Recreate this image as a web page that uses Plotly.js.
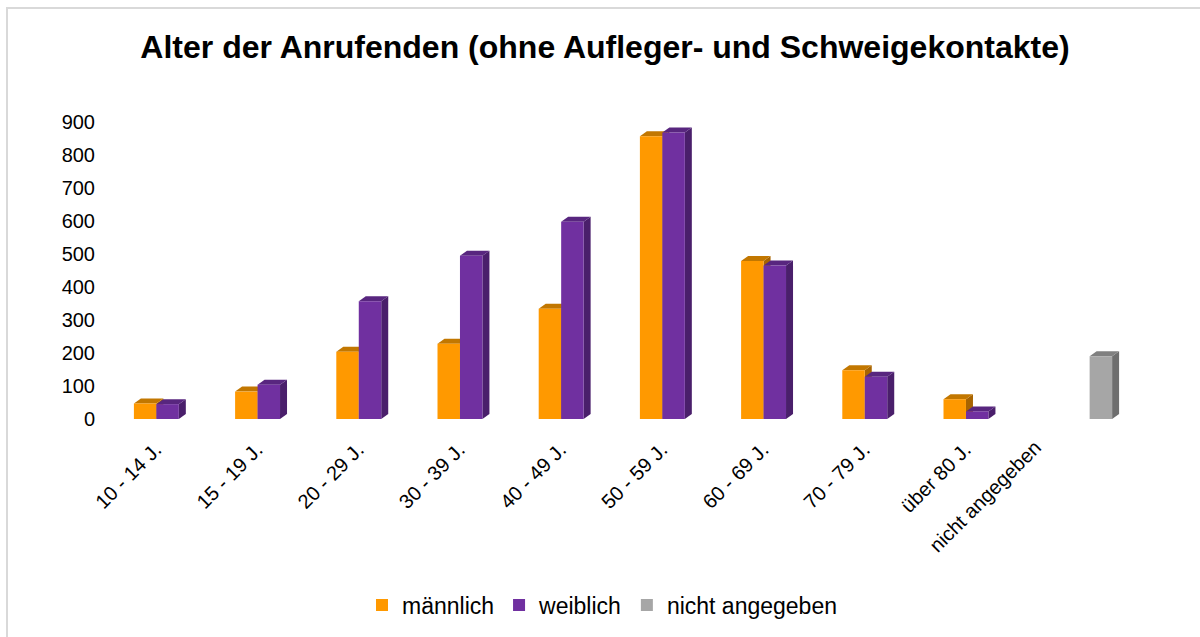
<!DOCTYPE html>
<html>
<head>
<meta charset="utf-8">
<script src="https://cdn.plot.ly/plotly-3.0.1.min.js"></script>
<style>
  html, body { margin: 0; padding: 0; background: #fff; }
  #wrap { position: relative; width: 1200px; height: 637px; }
  #chart { width: 1200px; height: 637px; }
  #frame { position: absolute; left: 6px; top: 7px; right: -10px; bottom: -10px;
           border-left: 2px solid #d9d9d9; border-top: 2px solid #d9d9d9; pointer-events: none; }
</style>
</head>
<body>
<div id="wrap"><div id="chart"></div><div id="frame"></div></div>
<script>
// ---- data ----
const categories = ["10 - 14 J.", "15 - 19 J.", "20 - 29 J.", "30 - 39 J.", "40 - 49 J.",
                    "50 - 59 J.", "60 - 69 J.", "70 - 79 J.", "über 80 J.", "nicht angegeben"];
const maennlich = [47, 83, 204, 228, 334, 857, 479, 148, 60, null];
const weiblich  = [45, 104, 357, 495, 598, 868, 465, 128, 23, null];
const nichtAng  = [null, null, null, null, null, null, null, null, null, 190];
const seriesNames = ["männlich", "weiblich", "nicht angegeben"];

// ---- styling ----
const FONT = "Liberation Sans, Arial, sans-serif";
const W = 1200, H = 637;
const M = {l: 117, r: 71, t: 122, b: 218};
const YMAX = 900;
const BW = 0.222; // bar width in category units
const faces = [
  {front: "#FF9900", top: "#C27700", side: "#A86400"},
  {front: "#7030A0", top: "#58267F", side: "#4A1F6B"},
  {front: "#A6A6A6", top: "#808080", side: "#6E6E6E"}
];
const DX = 7, DY = 5; // 3D depth offset in pixels

const xIdx = categories.map((_, i) => i);
const seriesVals = [maennlich, weiblich, nichtAng];
const offsets = [-1.5 * BW, -0.5 * BW, 0.5 * BW];

const traces = seriesVals.map((vals, k) => ({
  type: "bar",
  name: seriesNames[k],
  x: xIdx,
  y: vals,
  width: BW,
  offset: offsets[k],
  marker: {color: faces[k].front, line: {width: 0}},
  hoverinfo: "x+y+name"
}));

// pseudo-3D faces derived from data values
const plotW = W - M.l - M.r, plotH = H - M.t - M.b;
const pxPerCat = plotW / 10;
const bwPx = pxPerCat * BW;
const pxPerUnit = plotH / YMAX;
const shapes = [];
seriesVals.forEach((vals, k) => {
  vals.forEach((v, i) => {
    if (v === null) return;
    const x0 = i + offsets[k];
    const x1 = x0 + BW;
    const h = v * pxPerUnit;
    shapes.push({
      type: "path", layer: "below", xref: "x", yref: "y",
      xsizemode: "pixel", ysizemode: "pixel", xanchor: x1, yanchor: v,
      path: `M0,0 L${DX},${DY} L${DX},${DY - h} L0,${-h} Z`,
      fillcolor: faces[k].side, line: {width: 0}
    });
    shapes.push({
      type: "path", layer: "below", xref: "x", yref: "y",
      xsizemode: "pixel", ysizemode: "pixel", xanchor: x0, yanchor: v,
      path: `M0,0 L${DX},${DY} L${bwPx + DX},${DY} L${bwPx},0 Z`,
      fillcolor: faces[k].top, line: {width: 0}
    });
  });
});

// the long last category label sits further left in the original; draw it as an annotation
const lastIdx = categories.length - 1;
const tickText = categories.map((c, i) => (i === lastIdx ? "" : c));

const layout = {
  width: W, height: H,
  margin: M,
  paper_bgcolor: "#ffffff",
  plot_bgcolor: "rgba(0,0,0,0)",
  font: {family: FONT, color: "#000000", size: 20},
  title: {
    text: "<b>Alter der Anrufenden (ohne Aufleger- und Schweigekontakte)</b>",
    font: {family: FONT, size: 32, color: "#000000"},
    x: 605 / W, xanchor: "center", xref: "container",
    y: 1 - 47 / H, yanchor: "middle", yref: "container"
  },
  barmode: "overlay",
  xaxis: {
    type: "linear",
    range: [-0.5, 9.5],
    tickmode: "array",
    tickvals: xIdx,
    ticktext: tickText,
    tickangle: -45,
    showgrid: false, zeroline: false, showline: false,
    ticks: "",
    ticklabelstandoff: 14,
    ticklabelshift: -12,
    tickfont: {family: FONT, size: 20, color: "#000000"},
    fixedrange: true
  },
  yaxis: {
    range: [0, YMAX],
    tickvals: [0, 100, 200, 300, 400, 500, 600, 700, 800, 900],
    showgrid: false, zeroline: false, showline: false,
    ticks: "",
    ticklabelstandoff: 21,
    tickfont: {family: FONT, size: 20, color: "#000000"},
    fixedrange: true
  },
  annotations: [{
    x: lastIdx, xref: "x", y: 0, yref: "y",
    text: categories[lastIdx],
    textangle: -45,
    xanchor: "right", yanchor: "top",
    xshift: -30, yshift: -14,
    showarrow: false,
    font: {family: FONT, size: 20, color: "#000000"}
  }],
  showlegend: true,
  legend: {
    orientation: "h",
    x: 602 / W, xanchor: "center", xref: "container",
    y: 1 - 605 / H, yanchor: "middle", yref: "container",
    font: {family: FONT, size: 23, color: "#000000"},
    traceorder: "normal",
    itemclick: false, itemdoubleclick: false
  },
  shapes: shapes
};

Plotly.newPlot("chart", traces, layout, {displayModeBar: false, staticPlot: true});
</script>
</body>
</html>
